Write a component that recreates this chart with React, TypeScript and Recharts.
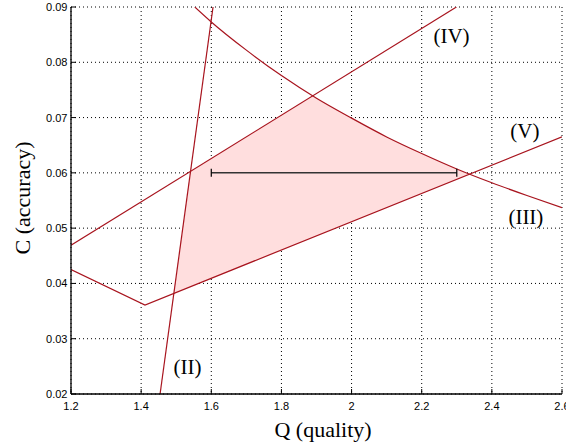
import { ComposedChart, Line, Area, XAxis, YAxis, CartesianGrid, ReferenceDot } from "recharts";

const qTicks = [1.2, 1.4, 1.6, 1.8, 2, 2.2, 2.4, 2.6];
const cTicks = [0.02, 0.03, 0.04, 0.05, 0.06, 0.07, 0.08, 0.09];

// (II) steep line
const q2 = [1.454, 1.605];
const c2 = [0.02, 0.09];
// (III) decreasing curve
const q3 = [1.553, 1.6, 1.7, 1.8, 1.9, 2.0, 2.1, 2.2, 2.3, 2.4, 2.5, 2.6];
const c3 = [0.09, 0.0873, 0.0822, 0.0776, 0.0735, 0.0699, 0.0665, 0.0635, 0.0607, 0.0582, 0.0559, 0.0537];
// (IV) upper line
const q4 = [1.2, 2.299];
const c4 = [0.0469, 0.09];
// (V) lower broken line
const q5 = [1.2, 1.411, 2.6];
const c5 = [0.0425, 0.0361, 0.0665];

// feasible region
const qShade = [1.493, 1.541, 1.889, 1.9, 2.0, 2.1, 2.2, 2.3, 2.335];
const lowShade = [0.0382, 0.0394, 0.0483, 0.0486, 0.0512, 0.0537, 0.0563, 0.0588, 0.0597];
const highShade = [0.0382, 0.0603, 0.0739, 0.0735, 0.0699, 0.0665, 0.0635, 0.0607, 0.0597];

// horizontal interval
const qBar = [1.6, 2.3];
const cBar = [0.06, 0.06];

const curveLabels = ["(II)", "(III)", "(IV)", "(V)"];
const labelQ = [1.532, 2.497, 2.285, 2.494];
const labelC = [0.0249, 0.0521, 0.0848, 0.0676];

const rows = (qs: number[], cs: number[]) => qs.map((q, i) => ({ q, c: cs[i] }));
const shadeRows = qShade.map((q, i) => ({ q, range: [lowShade[i], highShade[i]] }));

const RED = "#a8141e";
const SANS = "Liberation Sans, Arial, sans-serif";
const SERIF = "Liberation Serif, Times New Roman, serif";

const BottomTick = (p: any) => (
  <g>
    <line x1={p.x} x2={p.x} y1={p.y} y2={p.y - 5} stroke="#000" />
    <text x={p.x} y={p.y + 16} textAnchor="middle" fontSize={11} fontFamily={SANS} fill="#000">
      {p.payload.value}
    </text>
  </g>
);

const LeftTick = (p: any) => (
  <g>
    <line x1={p.x} x2={p.x + 5} y1={p.y} y2={p.y} stroke="#000" />
    <text x={p.x - 3.5} y={p.y + 4} textAnchor="end" fontSize={11} fontFamily={SANS} fill="#000">
      {p.payload.value}
    </text>
  </g>
);

const TopTick = (p: any) => <line x1={p.x} x2={p.x} y1={p.y} y2={p.y + 5} stroke="#000" />;
const RightTick = (p: any) => <line x1={p.x} x2={p.x - 5} y1={p.y} y2={p.y} stroke="#000" />;

const BarCap = (p: any) => (
  <line key={p.index} x1={p.cx} x2={p.cx} y1={p.cy - 4} y2={p.cy + 4} stroke="#000" strokeWidth={1.2} />
);

export default function App() {
  return (
    <div style={{ position: "absolute", left: 0, top: 0, width: 566, height: 447, background: "#fff" }}>
      <ComposedChart width={566} height={447} margin={{ top: 7, right: 4, bottom: 0, left: 0 }}>
        <CartesianGrid stroke="#000" strokeDasharray="1 3" horizontalValues={cTicks} verticalValues={qTicks} />
        <XAxis
          dataKey="q"
          type="number"
          domain={[1.2, 2.6]}
          ticks={qTicks}
          interval={0}
          allowDataOverflow
          height={53}
          tickSize={0}
          tickMargin={0}
          tick={BottomTick}
          axisLine={{ stroke: "#000", strokeWidth: 1.3 }}
          label={{
            content: () => (
              <text x={323} y={437} textAnchor="middle" fontSize={22} fontFamily={SERIF} fill="#000">
                Q (quality)
              </text>
            ),
          }}
        />
        <XAxis
          xAxisId="top"
          orientation="top"
          type="number"
          domain={[1.2, 2.6]}
          ticks={qTicks}
          interval={0}
          allowDataOverflow
          height={0}
          tickSize={0}
          tickMargin={0}
          tick={TopTick}
          axisLine={{ stroke: "#000", strokeWidth: 1.3 }}
        />
        <YAxis
          type="number"
          domain={[0.02, 0.09]}
          ticks={cTicks}
          interval={0}
          allowDataOverflow
          width={71}
          tickSize={0}
          tickMargin={0}
          tick={LeftTick}
          axisLine={{ stroke: "#000", strokeWidth: 1.3 }}
          label={{
            content: () => (
              <text
                x={22}
                y={198}
                transform="rotate(-90 22 198)"
                textAnchor="middle"
                dominantBaseline="central"
                fontSize={22}
                fontFamily={SERIF}
                fill="#000"
              >
                C (accuracy)
              </text>
            ),
          }}
        />
        <YAxis
          yAxisId="right"
          orientation="right"
          type="number"
          domain={[0.02, 0.09]}
          ticks={cTicks}
          interval={0}
          allowDataOverflow
          width={0}
          tickSize={0}
          tickMargin={0}
          tick={RightTick}
          axisLine={{ stroke: "#000", strokeWidth: 1.6 }}
        />
        <Area
          data={shadeRows}
          dataKey="range"
          type="linear"
          fill="#ffdede"
          fillOpacity={1}
          stroke="none"
          isAnimationActive={false}
        />
        <Line data={rows(q2, c2)} dataKey="c" type="linear" stroke={RED} strokeWidth={1.2} dot={false} isAnimationActive={false} />
        <Line data={rows(q3, c3)} dataKey="c" type="monotone" stroke={RED} strokeWidth={1.2} dot={false} isAnimationActive={false} />
        <Line data={rows(q4, c4)} dataKey="c" type="linear" stroke={RED} strokeWidth={1.2} dot={false} isAnimationActive={false} />
        <Line data={rows(q5, c5)} dataKey="c" type="linear" stroke={RED} strokeWidth={1.2} dot={false} isAnimationActive={false} />
        <Line
          data={rows(qBar, cBar)}
          dataKey="c"
          type="linear"
          stroke="#333"
          strokeWidth={1.5}
          dot={BarCap}
          isAnimationActive={false}
        />
        {curveLabels.map((t, i) => (
          <ReferenceDot
            key={t}
            x={labelQ[i]}
            y={labelC[i]}
            r={1}
            fill="none"
            stroke="none"
            label={{ value: t, position: "center", fontSize: 21, fontFamily: SERIF, fill: "#000" }}
          />
        ))}
      </ComposedChart>
    </div>
  );
}
